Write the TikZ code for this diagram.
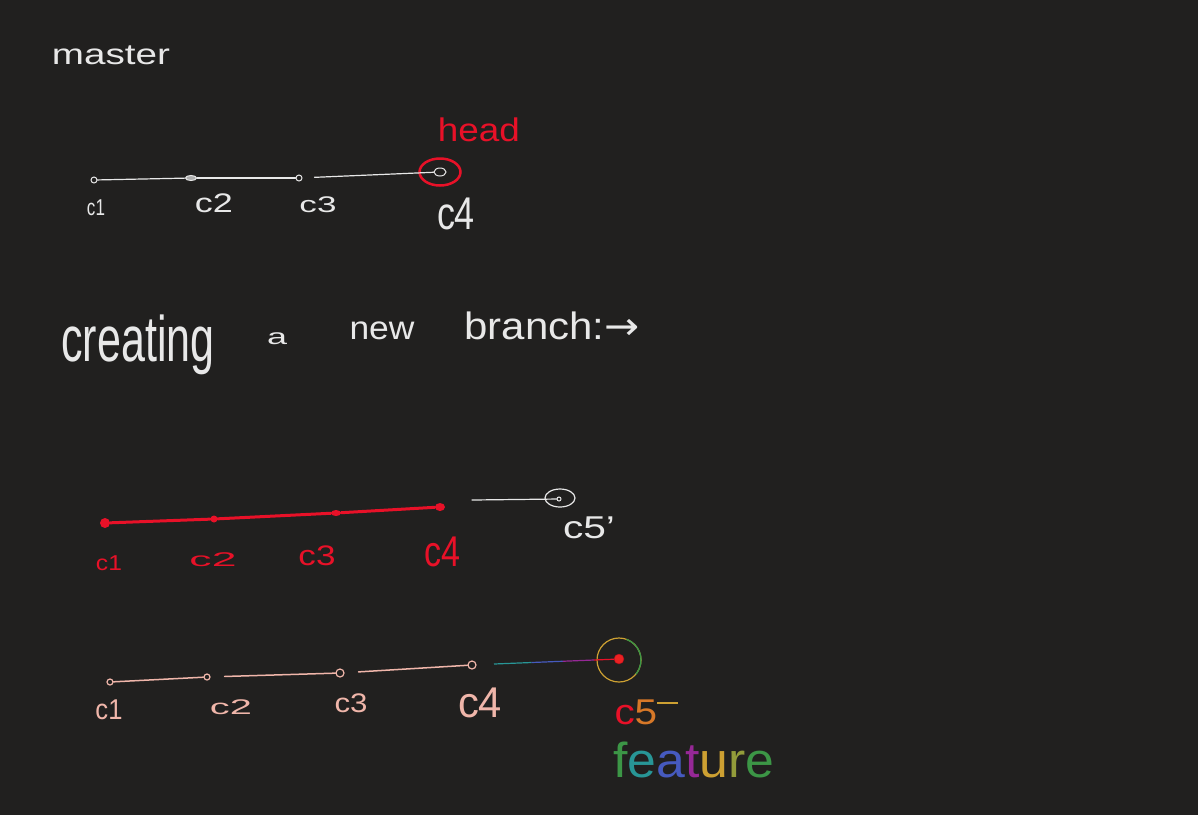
\documentclass[tikz,border=0pt]{standalone}
\usepackage{fontspec}
\setmainfont{Liberation Sans}
\newfontfamily\symfont{DejaVu Sans}
\usetikzlibrary{calc,shapes.geometric}
\definecolor{bg}{RGB}{33,32,31}
\definecolor{wht}{RGB}{232,232,232}
\definecolor{hred}{RGB}{232,17,40}
\definecolor{pink}{RGB}{240,182,170}
\definecolor{gold}{RGB}{205,160,50}
\definecolor{grn}{RGB}{60,150,70}
\definecolor{teal2}{RGB}{40,150,150}
\definecolor{blu}{RGB}{70,90,190}
\definecolor{purp}{RGB}{150,40,150}
\definecolor{orng}{RGB}{215,120,40}
\newcommand{\hw}[3]{\resizebox*{#1pt}{#2pt}{#3}}
\tikzset{
  txt/.style={inner sep=0pt, outer sep=0pt},
  wline/.style={draw=wht, line width=1.2pt, line cap=round},
  rline/.style={draw=hred, line width=3pt, line cap=round},
  pline/.style={draw=pink, line width=1.5pt, line cap=round},
  wcommit/.style={circle, draw=wht, line width=1pt, fill=bg, inner sep=0pt, minimum size=6pt},
  rcommit/.style={circle, fill=hred, inner sep=0pt, minimum size=7pt},
  pcommit/.style={circle, draw=pink, line width=1.2pt, fill=bg, inner sep=0pt, minimum size=7pt},
}
\begin{document}
\begin{tikzpicture}[x=1pt,y=-1pt]
\useasboundingbox[fill=bg] (0,0) rectangle (1198,815);

% ---- master ----
\node[txt, text=wht] (master) at (111,55.5) {\hw{118}{19}{master}};
\node[txt, text=hred] (head) at (479,130) {\hw{82}{24}{head}};

\node[wcommit] (a1) at (94,180) {};
\node[ellipse, draw=wht, fill=wht!70!bg, line width=1pt, inner sep=0pt, minimum width=11pt, minimum height=5pt] (a2) at (191,178) {};
\node[wcommit] (a3) at (299,178) {};
\node[ellipse, draw=wht, fill=bg, line width=1pt, inner sep=0pt, minimum width=12pt, minimum height=8pt] (a4) at (440,172) {};
\node[ellipse, draw=hred, line width=2.5pt, inner sep=0pt, minimum width=41pt, minimum height=27pt] (headring) at (440,172) {};
\draw[wline] (a1) -- (a2);
\draw[wline] (a2) -- (a3);
\draw[wline, shorten <=12pt] (a3) -- (a4);

\node[txt, text=wht] (a1l) at (96,208) {\hw{18}{16}{c1}};
\node[txt, text=wht] (a2l) at (214,203) {\hw{38}{19}{c2}};
\node[txt, text=wht] (a3l) at (318,205) {\hw{37}{16}{c3}};
\node[txt, text=wht] (a4l) at (456,214) {\hw{38}{32}{c4}};

% ---- heading ----
\node[txt, text=wht] (w1) at (138,345) {\hw{153}{60}{creating}};
\node[txt, text=wht] (w2) at (277,339) {\hw{20}{12}{a}};
\node[txt, text=wht] (w3) at (382,331) {\hw{65}{18}{new}};
\node[txt, text=wht] (w4) at (552,326) {\hw{175}{28}{branch:{\symfont →}}};

% ---- red branch ----
\node[rcommit, minimum size=10pt] (b1) at (105,523) {};
\node[rcommit] (b2) at (214,519) {};
\node[ellipse, fill=hred, inner sep=0pt, minimum width=10pt, minimum height=6pt] (b3) at (336,513) {};
\node[ellipse, fill=hred, inner sep=0pt, minimum width=10pt, minimum height=8pt] (b4) at (440,507) {};
\draw[rline] (b1) -- (b2);
\draw[rline] (b2) -- (b3);
\draw[rline] (b3) -- (b4);
\coordinate (bstart) at (472,500);
\node[ellipse, draw=wht, line width=1.2pt, inner sep=0pt, minimum width=30pt, minimum height=18pt] (b5) at (560,498) {};
\node[circle, draw=wht, fill=bg, line width=1pt, inner sep=0pt, minimum size=4pt] (b5c) at (559,499) {};
\draw[wline] (bstart) -- (b5c);

\node[txt, text=hred] (b1l) at (109,563) {\hw{26}{15}{c1}};
\node[txt, text=hred] (b2l) at (213,560) {\hw{47}{14}{c2}};
\node[txt, text=hred] (b3l) at (317,556) {\hw{37}{20}{c3}};
\node[txt, text=hred] (b4l) at (442,552) {\hw{36}{30}{c4}};
\node[txt, text=wht] (b5l) at (589,528) {\hw{52}{22}{c5'}};

% ---- pink / feature branch ----
\node[pcommit, minimum size=6pt] (p1) at (110,682) {};
\node[pcommit, minimum size=6pt] (p2) at (207,677) {};
\node[pcommit, minimum size=8pt] (p3) at (340,673) {};
\node[pcommit, minimum size=8pt] (p4) at (472,665) {};
\draw[pline] (p1) -- (p2);
\draw[pline, shorten <=14pt] (p2) -- (p3);
\draw[pline, shorten <=14pt] (p3) -- (p4);
\node[circle, draw=gold, line width=1.2pt, inner sep=0pt, minimum size=44pt] (p5) at (619,660) {};
\draw[grn, line width=1.3pt] (619,660) ++(-40:22pt) arc[start angle=-40, end angle=70, radius=22pt];
\node[circle, fill=hred!85!orange, draw=hred!70!black, inner sep=0pt, minimum size=10pt] (p5c) at (619,659) {};
\coordinate (g0) at (494,664);
\draw[teal2, line width=1.2pt] (g0) -- ($(g0)!0.3!(p5c)$);
\draw[blu, line width=1.2pt] ($(g0)!0.3!(p5c)$) -- ($(g0)!0.55!(p5c)$);
\draw[purp, line width=1.2pt] ($(g0)!0.55!(p5c)$) -- ($(g0)!0.8!(p5c)$);
\draw[hred, line width=1.2pt] ($(g0)!0.8!(p5c)$) -- (p5c);

\node[txt, text=pink] (p1l) at (109,710) {\hw{27}{20}{c1}};
\node[txt, text=pink] (p2l) at (231,707) {\hw{42}{15}{c2}};
\node[txt, text=pink] (p3l) at (351,703) {\hw{33}{19}{c3}};
\node[txt, text=pink] (p4l) at (480,703) {\hw{44}{30}{c4}};
\node[txt] (p5l) at (646,712) {\hw{63}{25}{\textcolor{hred}{c}\textcolor{orng}{5}\textcolor{gold}{\rule[0.55em]{0.5em}{0.06em}}}};
\node[txt] (feat) at (694,760) {\hw{161}{36}{\textcolor{grn}{f}\textcolor{teal2}{e}\textcolor{blu}{a}\textcolor{purp}{t}\textcolor{gold}{u}\textcolor{gold!60!grn}{r}\textcolor{grn}{e}}};
\end{tikzpicture}
\end{document}
